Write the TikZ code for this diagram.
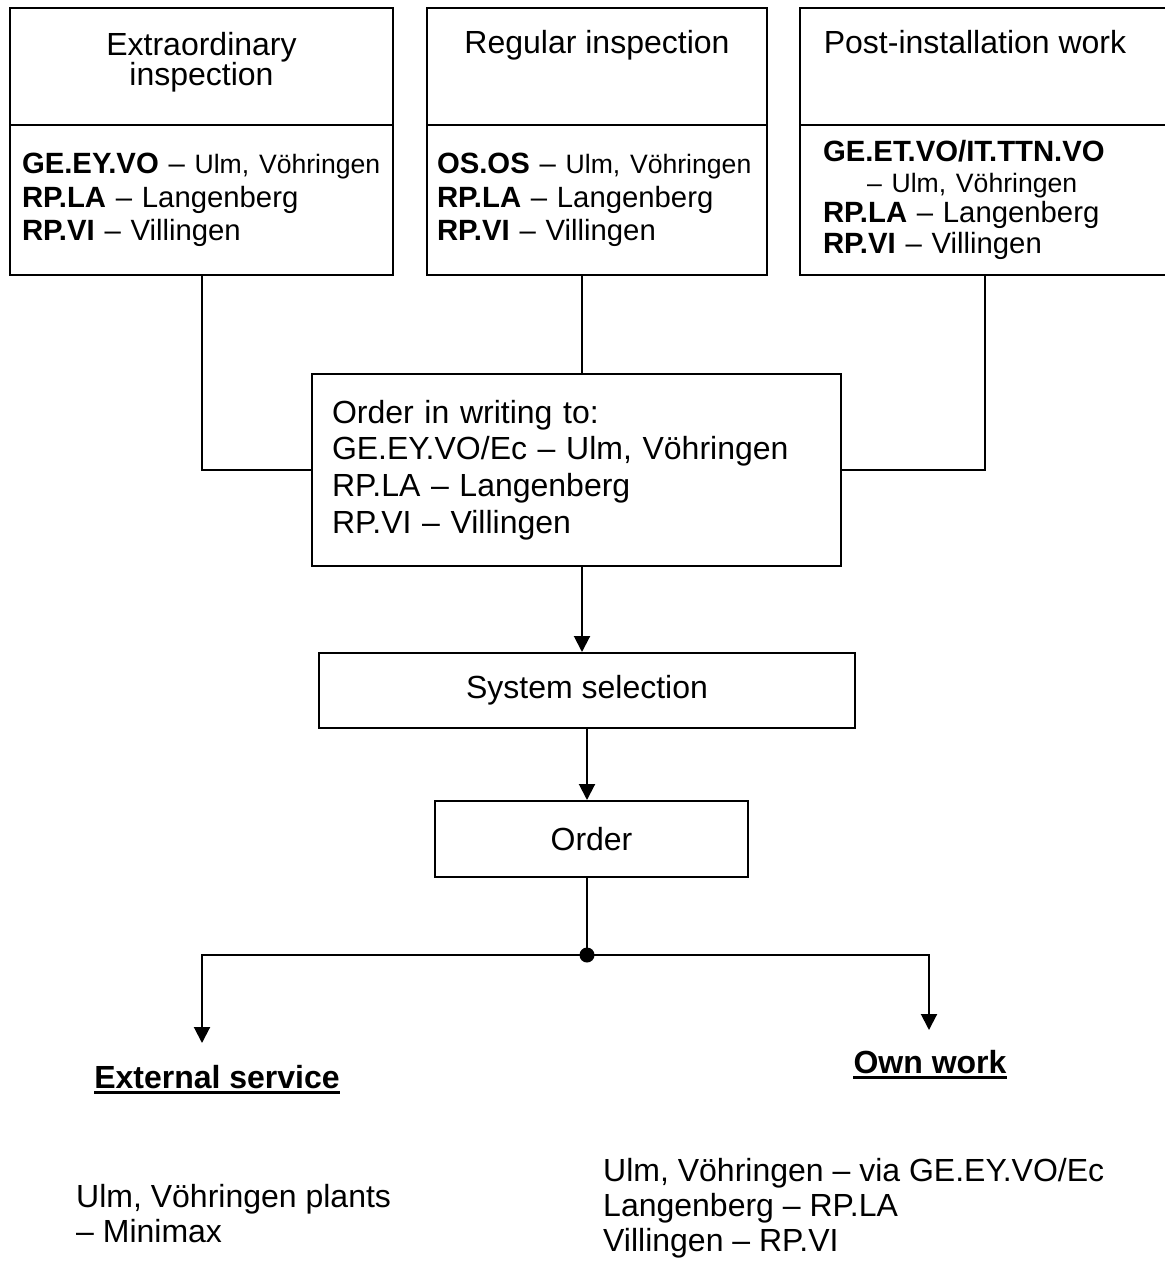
\documentclass[tikz,border=0pt]{standalone}
\usepackage{fontspec}
\setmainfont{Liberation Sans}
\usetikzlibrary{arrows.meta,positioning}
\frenchspacing

\newcommand{\bigtxt}{\fontsize{32}{36.8}\selectfont}
\newcommand{\headtxt}{\fontsize{32}{30.5}\selectfont}
\newcommand{\listtxt}{\fontsize{32}{35}\selectfont}
\newcommand{\midtxt}{\fontsize{29.3}{33.7}\selectfont}
\newcommand{\smalltxt}{\fontsize{26.6}{30}\selectfont}

\tikzset{
  cell/.style={draw, line width=2pt, inner sep=0pt},
  body/.style={cell, align=left, font=\midtxt},
  head/.style={align=center, font=\headtxt, inner sep=0pt},
  plain/.style={align=left, font=\bigtxt, inner sep=0pt},
  conn/.style={line width=2pt},
  arr/.style={conn, -{Triangle[width=16pt,length=16pt]}},
}

\begin{document}
\begin{tikzpicture}[x=1pt,y=-1pt]
    \useasboundingbox (0,0) rectangle (1164,1265);

    % Top boxes
    \node[cell, minimum width=383, minimum height=117] (extHead) at (201.5,66.5) {};
    \node[body, text width=359, inner xsep=12, minimum height=150] (extBody) at (201.5,200)
        {\textbf{GE.EY.VO} -- {\smalltxt Ulm, Vöhringen}\\\textbf{RP.LA} -- Langenberg\\\textbf{RP.VI} -- Villingen};
    \node[head, below=25pt of extHead.north] (extTitle) {Extraordinary\\inspection};

    \node[cell, minimum width=340, minimum height=117] (regHead) at (597,66.5) {};
    \node[body, text width=320, inner xsep=10, minimum height=150] (regBody) at (597,200)
        {\textbf{OS.OS} -- {\smalltxt Ulm, Vöhringen}\\\textbf{RP.LA} -- Langenberg\\\textbf{RP.VI} -- Villingen};
    \node[head, below=23pt of regHead.north] (regTitle) {Regular inspection};

    \node[cell, minimum width=370, minimum height=117] (postHead) at (985,66.5) {};
    \node[body, text width=324, inner xsep=23, minimum height=150] (postBody) at (985,200)
        {\textbf{GE.ET.VO/IT.TTN.VO}\\[-3pt]\hspace*{44pt}{\smalltxt -- Ulm, Vöhringen}\\[-3pt]\textbf{RP.LA} -- Langenberg\\[-3pt]\textbf{RP.VI} -- Villingen};
    \node[head, below=23pt of postHead.north, xshift=-10pt] (postTitle) {Post-installation work};

    % Middle boxes
    \node[cell, plain, text width=489, inner xsep=20, minimum height=192] (request) at (576.5,470)
        {Order in writing to:\\GE.EY.VO/Ec -- Ulm, Vöhringen\\RP.LA -- Langenberg\\RP.VI -- Villingen};
    \node[cell, font=\bigtxt, minimum width=536, minimum height=75] (select) at (587,690.5) {System selection};
    \node[cell, font=\bigtxt, minimum width=313, minimum height=76] (order) at (591.5,839) {Order};

    % Bottom texts
    \node[font=\bigtxt\bfseries, inner sep=0pt] (extLbl) at (217,1077) {External service};
    \node[font=\bigtxt\bfseries, inner sep=0pt] (ownLbl) at (930,1062) {Own work};
    \draw[line width=3pt] ([yshift=-4pt]extLbl.base west) -- ([yshift=-4pt]extLbl.base east);
    \draw[line width=3pt] ([yshift=-4pt]ownLbl.base west) -- ([yshift=-4pt]ownLbl.base east);
    \node[plain, font=\listtxt, anchor=west] (extList) at (76,1214) {Ulm, Vöhringen plants\\-- Minimax};
    \node[plain, font=\listtxt, anchor=west] (ownList) at (603,1208)
        {Ulm, Vöhringen -- via GE.EY.VO/Ec\\Langenberg -- RP.LA\\Villingen -- RP.VI};

    % Edges
    \coordinate (tap) at (582,0);
    \coordinate (fork) at (587,955);
    \coordinate (extEnd) at (202,1043);
    \coordinate (ownEnd) at (929,1030);

    \draw[conn] (extBody.south) |- (request.west);
    \draw[conn] (regBody.south -| tap) -- (request.north -| tap);
    \draw[conn] (postBody.south) |- (request.east);
    \draw[arr] (request.south -| tap) -- (select.north -| tap);
    \draw[arr] (select.south) -- (select.south |- order.north);
    \draw[conn] (order.south -| fork) -- (fork);
    \fill (fork) circle (7.5);
    \draw[arr] (fork) -| (extEnd);
    \draw[arr] (fork) -| (ownEnd);
\end{tikzpicture}
\end{document}
